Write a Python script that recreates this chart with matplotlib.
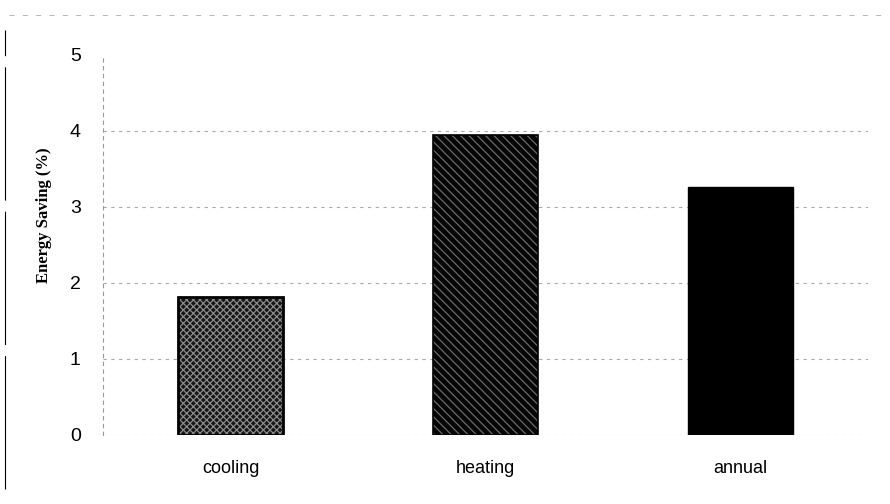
import matplotlib
matplotlib.use("Agg")
import matplotlib.pyplot as plt
from matplotlib.lines import Line2D

categories = ["cooling", "heating", "annual"]
values = [1.82, 3.95, 3.26]
yticks = [0, 1, 2, 3, 4, 5]

plt.rcParams["hatch.linewidth"] = 0.9

fig = plt.figure(figsize=(8.9, 5.04), dpi=100)
ax = fig.add_axes([0.1157, 0.137, 0.8596, 0.754])

x = list(range(len(categories)))
w = 0.41

# cooling: dark cross-hatched
ax.bar(x[0], values[0], width=w, facecolor="#151515", edgecolor="#8a8a8a",
       hatch="xxxxx", linewidth=0, zorder=3)
ax.bar(x[0], values[0], width=w, facecolor="none", edgecolor="black",
       linewidth=2, zorder=4)
# heating: black with diagonal light lines
ax.bar(x[1], values[1], width=w, facecolor="#050505", edgecolor="#6a6a6a",
       hatch="\\\\\\\\", linewidth=0, zorder=3)
ax.bar(x[1], values[1], width=w, facecolor="none", edgecolor="black",
       linewidth=1.2, zorder=4)
# annual: solid black
ax.bar(x[2], values[2], width=w, facecolor="black", edgecolor="black",
       linewidth=1, zorder=3)

ax.set_xlim(-0.5, 2.5)
ax.set_ylim(0, 5)
ax.set_yticks(yticks)
ax.set_yticklabels([str(t) for t in yticks], fontsize=14,
                   fontfamily="Liberation Sans")
ax.set_xticks(x)
ax.set_xticklabels(categories, fontsize=13, fontfamily="Liberation Sans")
ax.tick_params(axis="y", length=0, pad=16)
ax.tick_params(axis="x", length=0, pad=18)

for t in yticks[:-1]:
    ax.axhline(t, color="#aaaaaa", linewidth=0.8, linestyle=(0, (3, 4)), zorder=1)

for s in ["top", "right", "bottom"]:
    ax.spines[s].set_visible(False)
ax.spines["left"].set_color("#999999")
ax.spines["left"].set_linestyle((0, (3, 4)))
ax.spines["left"].set_linewidth(0.8)

fig.text(0.05, 0.573, "Energy Saving (%)", rotation=90, ha="center", va="center",
         fontsize=12, fontweight="bold", fontfamily="Liberation Serif")

# scan border artifacts
fig.add_artist(Line2D([0.006, 0.006], [0.03, 0.94], color="black",
                      linewidth=0.8, linestyle=(0, (120, 10))))
fig.add_artist(Line2D([0.01, 0.99], [0.97, 0.97], color="#aaaaaa",
                      linewidth=0.6, linestyle=(0, (6, 10))))

fig.savefig("out.png", dpi=100)
